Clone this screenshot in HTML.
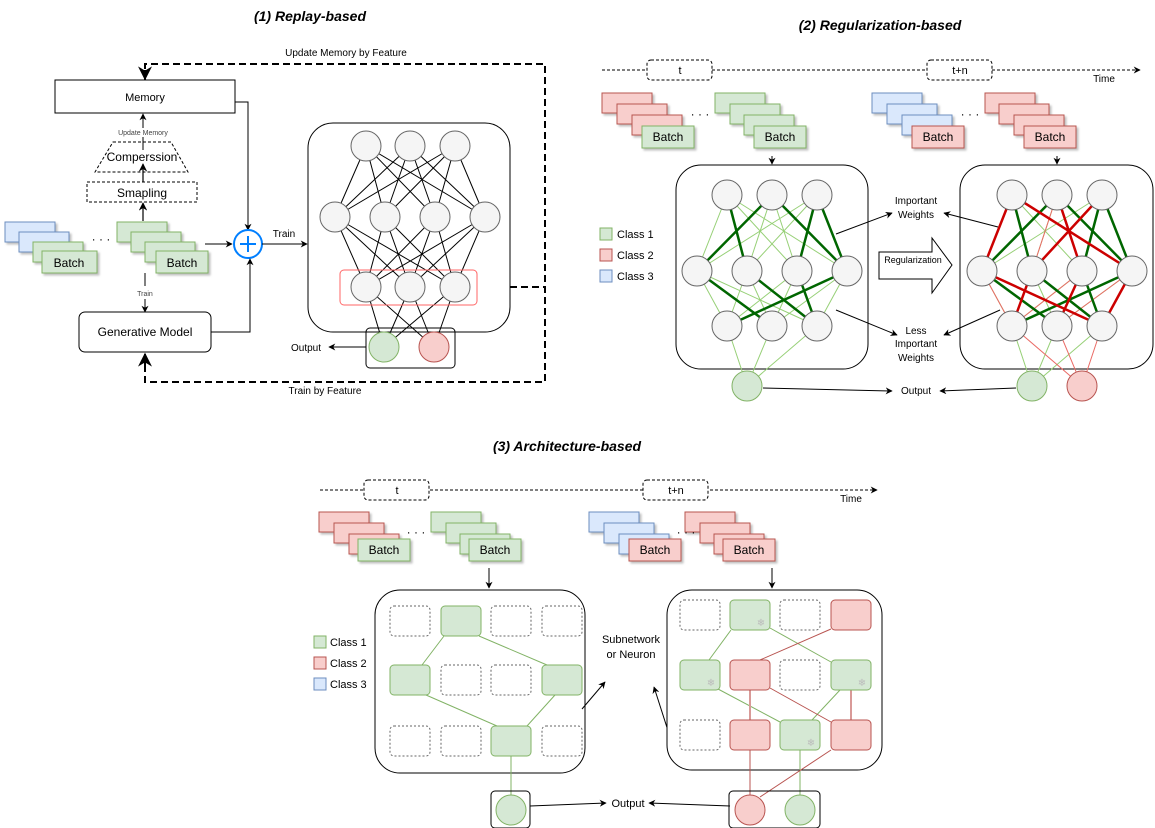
<!DOCTYPE html>
<html><head><meta charset="utf-8"><style>
body{margin:0;background:#fff;}
svg{display:block;font-family:"Liberation Sans",sans-serif;}
</style></head><body>
<svg width="1155" height="828" viewBox="0 0 1155 828" xmlns="http://www.w3.org/2000/svg">
<defs>
<marker id="ar" viewBox="0 0 10 10" refX="9" refY="5" markerWidth="7" markerHeight="7" orient="auto-start-reverse"><path d="M0,0 L10,5 L0,10 L3,5 z" fill="#000"/></marker>
<filter id="sh"><feDropShadow dx="2" dy="2" stdDeviation="1" flood-opacity="0.25"/></filter>
</defs>
<g font-style="italic" font-weight="bold" font-size="14" text-anchor="middle">
<text x="310" y="21">(1) Replay-based</text>
<text x="880" y="30">(2) Regularization-based</text>
<text x="567" y="451">(3) Architecture-based</text>
</g>

<!-- ===== Section 1 ===== -->
<g fill="none" stroke="#000" stroke-width="2" stroke-dasharray="7,4">
<path d="M145,80 V64 H545 V382 H145 V356"/>
<path d="M477,287 H545"/>
</g>
<path d="M145,70 V79" stroke="#000" stroke-width="2" marker-end="url(#ar)"/>
<path d="M145,366 V354" stroke="#000" stroke-width="2" marker-end="url(#ar)"/>
<text x="346" y="56" font-size="10" text-anchor="middle">Update Memory by Feature</text>
<text x="325" y="394" font-size="10" text-anchor="middle">Train by Feature</text>
<rect x="55" y="80" width="180" height="33" fill="#fff" stroke="#000"/>
<text x="145" y="101" font-size="11" text-anchor="middle">Memory</text>
<path d="M235,102 H248 V230" fill="none" stroke="#000" marker-end="url(#ar)"/>
<path d="M143,128 V114" stroke="#000" marker-end="url(#ar)"/>
<text x="143" y="135" font-size="7" fill="#444" text-anchor="middle">Update Memory</text>
<path d="M113,142 H171 L188,172 H95 Z" fill="#fff" stroke="#000" stroke-dasharray="3,2"/>
<path d="M143,137 V150" stroke="#000"/>
<text x="142" y="161" font-size="12" text-anchor="middle">Comperssion</text>
<path d="M143,182 V164" stroke="#000" stroke-width="1.2" marker-end="url(#ar)"/>
<rect x="87" y="182" width="110" height="20" fill="#fff" stroke="#000" stroke-dasharray="3,2"/>
<text x="142" y="197" font-size="12" text-anchor="middle">Smapling</text>
<path d="M143,221 V203" stroke="#000" stroke-width="1.2" marker-end="url(#ar)"/>
<g filter="url(#sh)">
<rect x="5" y="222" width="50" height="20" fill="#dae8fc" stroke="#6c8ebf"/>
<rect x="19" y="232" width="50" height="20" fill="#dae8fc" stroke="#6c8ebf"/>
<rect x="33" y="242" width="50" height="20" fill="#d5e8d4" stroke="#82b366"/>
<rect x="42" y="251" width="55" height="22" fill="#d5e8d4" stroke="#82b366"/>
<rect x="117" y="222" width="50" height="20" fill="#d5e8d4" stroke="#82b366"/>
<rect x="131" y="232" width="50" height="20" fill="#d5e8d4" stroke="#82b366"/>
<rect x="145" y="242" width="50" height="20" fill="#d5e8d4" stroke="#82b366"/>
<rect x="156" y="251" width="52" height="22" fill="#d5e8d4" stroke="#82b366"/>
</g>
<text x="69" y="267" font-size="12" text-anchor="middle">Batch</text>
<text x="182" y="267" font-size="12" text-anchor="middle">Batch</text>
<text x="101" y="243" font-size="12" text-anchor="middle">· · ·</text>
<path d="M205,244 H232" stroke="#000" marker-end="url(#ar)"/>
<circle cx="248" cy="244" r="14" fill="#fff" stroke="#007fff" stroke-width="2"/>
<path d="M240,244 H256 M248,236 V252" stroke="#007fff" stroke-width="2"/>
<path d="M262,244 H307" stroke="#000" marker-end="url(#ar)"/>
<text x="284" y="237" font-size="10" text-anchor="middle">Train</text>
<path d="M145,273 V286" stroke="#000"/>
<path d="M145,299 V312" stroke="#000" marker-end="url(#ar)"/>
<text x="145" y="296" font-size="7" fill="#444" text-anchor="middle">Train</text>
<rect x="79" y="312" width="132" height="40" rx="6" fill="#fff" stroke="#000"/>
<text x="145" y="336" font-size="12" text-anchor="middle">Generative Model</text>
<path d="M211,332 H250 V259" fill="none" stroke="#000" marker-end="url(#ar)"/>
<rect x="308" y="123" width="202" height="209" rx="25" fill="#fff" stroke="#000"/>
<g stroke="#000" stroke-width="1">
<path d="M366,146L335,217M366,146L385,217M366,146L435,217M366,146L485,217M410,146L335,217M410,146L385,217M410,146L435,217M410,146L485,217M455,146L335,217M455,146L385,217M455,146L435,217M455,146L485,217"/>
<path d="M335,217L366,287M335,217L410,287M335,217L455,287M385,217L366,287M385,217L410,287M385,217L455,287M435,217L366,287M435,217L410,287M435,217L455,287M485,217L366,287M485,217L410,287M485,217L455,287"/>
<path d="M366,287L384,347M366,287L434,347M410,287L384,347M410,287L434,347M455,287L384,347M455,287L434,347"/>
</g>
<rect x="340" y="270" width="137" height="35" rx="4" fill="none" stroke="#ff6666"/>
<g fill="#f5f5f5" stroke="#666">
<circle cx="366" cy="146" r="15"/><circle cx="410" cy="146" r="15"/><circle cx="455" cy="146" r="15"/>
<circle cx="335" cy="217" r="15"/><circle cx="385" cy="217" r="15"/><circle cx="435" cy="217" r="15"/><circle cx="485" cy="217" r="15"/>
<circle cx="366" cy="287" r="15"/><circle cx="410" cy="287" r="15"/><circle cx="455" cy="287" r="15"/>
</g>
<rect x="366" y="328" width="89" height="40" rx="4" fill="none" stroke="#000"/>
<circle cx="384" cy="347" r="15" fill="#d5e8d4" stroke="#82b366"/>
<circle cx="434" cy="347" r="15" fill="#f8cecc" stroke="#b85450"/>
<path d="M366,347 H329" stroke="#000" marker-end="url(#ar)"/>
<text x="306" y="351" font-size="10" text-anchor="middle">Output</text>

<!-- ===== Section 2 ===== -->
<path d="M602,70 H1140" stroke="#000" stroke-dasharray="3,2" marker-end="url(#ar)"/>
<rect x="647" y="60" width="65" height="20" rx="4" fill="#fff" stroke="#000" stroke-dasharray="3,2"/>
<text x="680" y="74" font-size="11" text-anchor="middle">t</text>
<rect x="927" y="60" width="65" height="20" rx="4" fill="#fff" stroke="#000" stroke-dasharray="3,2"/>
<text x="960" y="74" font-size="11" text-anchor="middle">t+n</text>
<text x="1104" y="82" font-size="10" text-anchor="middle">Time</text>
<g filter="url(#sh)">
<rect x="602" y="93" width="50" height="20" fill="#f8cecc" stroke="#b85450"/>
<rect x="617" y="104" width="50" height="20" fill="#f8cecc" stroke="#b85450"/>
<rect x="632" y="115" width="50" height="20" fill="#f8cecc" stroke="#b85450"/>
<rect x="642" y="126" width="52" height="22" fill="#d5e8d4" stroke="#82b366"/>
<rect x="715" y="93" width="50" height="20" fill="#d5e8d4" stroke="#82b366"/>
<rect x="730" y="104" width="50" height="20" fill="#d5e8d4" stroke="#82b366"/>
<rect x="744" y="115" width="50" height="20" fill="#d5e8d4" stroke="#82b366"/>
<rect x="754" y="126" width="52" height="22" fill="#d5e8d4" stroke="#82b366"/>
<rect x="872" y="93" width="50" height="20" fill="#dae8fc" stroke="#6c8ebf"/>
<rect x="887" y="104" width="50" height="20" fill="#dae8fc" stroke="#6c8ebf"/>
<rect x="902" y="115" width="50" height="20" fill="#dae8fc" stroke="#6c8ebf"/>
<rect x="912" y="126" width="52" height="22" fill="#f8cecc" stroke="#b85450"/>
<rect x="985" y="93" width="50" height="20" fill="#f8cecc" stroke="#b85450"/>
<rect x="999" y="104" width="50" height="20" fill="#f8cecc" stroke="#b85450"/>
<rect x="1014" y="115" width="50" height="20" fill="#f8cecc" stroke="#b85450"/>
<rect x="1024" y="126" width="52" height="22" fill="#f8cecc" stroke="#b85450"/>
</g>
<g font-size="12" text-anchor="middle">
<text x="668" y="141">Batch</text><text x="780" y="141">Batch</text>
<text x="938" y="141">Batch</text><text x="1050" y="141">Batch</text>
<text x="700" y="118">· · ·</text><text x="970" y="118">· · ·</text>
</g>
<path d="M772,156 V164" stroke="#000" marker-end="url(#ar)"/>
<path d="M1057,156 V164" stroke="#000" marker-end="url(#ar)"/>
<g font-size="11">
<rect x="600" y="228" width="12" height="12" fill="#d5e8d4" stroke="#82b366"/><text x="617" y="238">Class 1</text>
<rect x="600" y="249" width="12" height="12" fill="#f8cecc" stroke="#b85450"/><text x="617" y="259">Class 2</text>
<rect x="600" y="270" width="12" height="12" fill="#dae8fc" stroke="#6c8ebf"/><text x="617" y="280">Class 3</text>
</g>
<rect x="676" y="165" width="192" height="204" rx="25" fill="#fff" stroke="#000"/>
<rect x="960" y="165" width="193" height="204" rx="25" fill="#fff" stroke="#000"/>
<g stroke="#97d077" stroke-width="1">
<path d="M727,195L697,271M727,195L797,271M727,195L847,271M772,195L747,271M772,195L797,271M817,195L697,271M817,195L747,271"/>
<path d="M697,271L727,326M697,271L817,326M747,271L727,326M747,271L772,326M797,271L727,326M797,271L772,326M847,271L772,326M847,271L817,326"/>
<path d="M727,326L747,386M772,326L747,386M817,326L747,386"/>
</g>
<g stroke="#006600" stroke-width="2.5">
<path d="M727,195L747,271M772,195L697,271M772,195L847,271M817,195L797,271M817,195L847,271"/>
<path d="M697,271L772,326M747,271L817,326M847,271L727,326M797,271L817,326"/>
</g>
<g stroke-width="1">
<path stroke="#97d077" d="M1012,195L1082,271M1057,195L1032,271M1102,195L982,271M982,271L1012,326M1032,271L1057,326M1082,271L1012,326M1132,271L1057,326M1012,326L1032,386M1057,326L1032,386M1102,326L1032,386"/>
<path stroke="#ea6b66" d="M1057,195L1032,271M1012,195L1132,271M1102,195L1082,271M982,271L1012,326M1082,271L1012,326M1132,271L1057,326M1012,326L1082,386M1057,326L1082,386M1102,326L1082,386"/>
</g>
<g stroke-width="2.5">
<path stroke="#006600" d="M1012,195L1032,271M1057,195L982,271M1102,195L1082,271M1102,195L1132,271M1057,195L1132,271M982,271L1057,326M1032,271L1102,326M1132,271L1012,326M1082,271L1102,326"/>
<path stroke="#cc0000" d="M1012,195L982,271M1057,195L1082,271M1102,195L1032,271M1012,195L1132,271M982,271L1102,326M1032,271L1012,326M1082,271L1057,326M1132,271L1102,326"/>
</g>
<g fill="#f5f5f5" stroke="#666">
<circle cx="727" cy="195" r="15"/><circle cx="772" cy="195" r="15"/><circle cx="817" cy="195" r="15"/>
<circle cx="697" cy="271" r="15"/><circle cx="747" cy="271" r="15"/><circle cx="797" cy="271" r="15"/><circle cx="847" cy="271" r="15"/>
<circle cx="727" cy="326" r="15"/><circle cx="772" cy="326" r="15"/><circle cx="817" cy="326" r="15"/>
<circle cx="1012" cy="195" r="15"/><circle cx="1057" cy="195" r="15"/><circle cx="1102" cy="195" r="15"/>
<circle cx="982" cy="271" r="15"/><circle cx="1032" cy="271" r="15"/><circle cx="1082" cy="271" r="15"/><circle cx="1132" cy="271" r="15"/>
<circle cx="1012" cy="326" r="15"/><circle cx="1057" cy="326" r="15"/><circle cx="1102" cy="326" r="15"/>
</g>
<circle cx="747" cy="386" r="15" fill="#d5e8d4" stroke="#82b366"/>
<circle cx="1032" cy="386" r="15" fill="#d5e8d4" stroke="#82b366"/>
<circle cx="1082" cy="386" r="15" fill="#f8cecc" stroke="#b85450"/>
<g font-size="10" text-anchor="middle">
<text x="916" y="204">Important</text><text x="916" y="218">Weights</text>
<text x="916" y="334">Less</text><text x="916" y="347">Important</text><text x="916" y="361">Weights</text>
<text x="916" y="394">Output</text>
</g>
<g stroke="#000">
<path d="M836,234 L892,213" marker-end="url(#ar)"/>
<path d="M998,227 L944,213" marker-end="url(#ar)"/>
<path d="M836,310 L897,335" marker-end="url(#ar)"/>
<path d="M1000,310 L944,335" marker-end="url(#ar)"/>
<path d="M763,388 L892,391" marker-end="url(#ar)"/>
<path d="M1016,388 L940,391" marker-end="url(#ar)"/>
</g>
<path d="M879,252 H932 V238 L952,265 L932,293 V279 H879 Z" fill="#fff" stroke="#000"/>
<text x="913" y="263" font-size="9" text-anchor="middle">Regularization</text>

<!-- ===== Section 3 ===== -->
<path d="M320,490 H877" stroke="#000" stroke-dasharray="3,2" marker-end="url(#ar)"/>
<rect x="364" y="480" width="65" height="20" rx="4" fill="#fff" stroke="#000" stroke-dasharray="3,2"/>
<text x="397" y="494" font-size="11" text-anchor="middle">t</text>
<rect x="643" y="480" width="65" height="20" rx="4" fill="#fff" stroke="#000" stroke-dasharray="3,2"/>
<text x="676" y="494" font-size="11" text-anchor="middle">t+n</text>
<text x="851" y="502" font-size="10" text-anchor="middle">Time</text>
<g filter="url(#sh)">
<rect x="319" y="512" width="50" height="20" fill="#f8cecc" stroke="#b85450"/>
<rect x="334" y="523" width="50" height="20" fill="#f8cecc" stroke="#b85450"/>
<rect x="349" y="534" width="50" height="20" fill="#f8cecc" stroke="#b85450"/>
<rect x="358" y="539" width="52" height="22" fill="#d5e8d4" stroke="#82b366"/>
<rect x="431" y="512" width="50" height="20" fill="#d5e8d4" stroke="#82b366"/>
<rect x="446" y="523" width="50" height="20" fill="#d5e8d4" stroke="#82b366"/>
<rect x="460" y="534" width="50" height="20" fill="#d5e8d4" stroke="#82b366"/>
<rect x="469" y="539" width="52" height="22" fill="#d5e8d4" stroke="#82b366"/>
<rect x="589" y="512" width="50" height="20" fill="#dae8fc" stroke="#6c8ebf"/>
<rect x="604" y="523" width="50" height="20" fill="#dae8fc" stroke="#6c8ebf"/>
<rect x="619" y="534" width="50" height="20" fill="#dae8fc" stroke="#6c8ebf"/>
<rect x="629" y="539" width="52" height="22" fill="#f8cecc" stroke="#b85450"/>
<rect x="685" y="512" width="50" height="20" fill="#f8cecc" stroke="#b85450"/>
<rect x="700" y="523" width="50" height="20" fill="#f8cecc" stroke="#b85450"/>
<rect x="714" y="534" width="50" height="20" fill="#f8cecc" stroke="#b85450"/>
<rect x="723" y="539" width="52" height="22" fill="#f8cecc" stroke="#b85450"/>
</g>
<g font-size="12" text-anchor="middle">
<text x="384" y="554">Batch</text><text x="495" y="554">Batch</text>
<text x="655" y="554">Batch</text><text x="749" y="554">Batch</text>
<text x="416" y="536">· · ·</text><text x="686" y="536">· · ·</text>
</g>
<path d="M489,568 V588" stroke="#000" marker-end="url(#ar)"/>
<path d="M772,568 V588" stroke="#000" marker-end="url(#ar)"/>
<g font-size="11">
<rect x="314" y="636" width="12" height="12" fill="#d5e8d4" stroke="#82b366"/><text x="330" y="646">Class 1</text>
<rect x="314" y="657" width="12" height="12" fill="#f8cecc" stroke="#b85450"/><text x="330" y="667">Class 2</text>
<rect x="314" y="678" width="12" height="12" fill="#dae8fc" stroke="#6c8ebf"/><text x="330" y="688">Class 3</text>
</g>
<rect x="375" y="590" width="210" height="183" rx="25" fill="#fff" stroke="#000"/>
<g stroke="#82b366" stroke-width="1">
<path d="M444,636 L422,665 M479,636 L547,665 M426,695 L497,726 M555,695 L527,726 M511,756 V795"/>
</g>
<g fill="#fff" stroke="#666" stroke-dasharray="2,2">
<rect x="390" y="606" width="40" height="30" rx="4"/><rect x="491" y="606" width="40" height="30" rx="4"/><rect x="542" y="606" width="40" height="30" rx="4"/>
<rect x="441" y="665" width="40" height="30" rx="4"/><rect x="491" y="665" width="40" height="30" rx="4"/>
<rect x="390" y="726" width="40" height="30" rx="4"/><rect x="441" y="726" width="40" height="30" rx="4"/><rect x="542" y="726" width="40" height="30" rx="4"/>
</g>
<g fill="#d5e8d4" stroke="#82b366">
<rect x="441" y="606" width="40" height="30" rx="4"/><rect x="390" y="665" width="40" height="30" rx="4"/>
<rect x="542" y="665" width="40" height="30" rx="4"/><rect x="491" y="726" width="40" height="30" rx="4"/>
</g>
<rect x="491" y="791" width="39" height="37" rx="4" fill="none" stroke="#000"/>
<circle cx="511" cy="810" r="15" fill="#d5e8d4" stroke="#82b366"/>
<text x="631" y="643" font-size="11" text-anchor="middle">Subnetwork</text>
<text x="631" y="658" font-size="11" text-anchor="middle">or Neuron</text>
<g stroke="#000">
<path d="M582,709 L605,682" marker-end="url(#ar)"/>
<path d="M679,765 L654,687" marker-end="url(#ar)"/>
<path d="M530,806 L606,803" marker-end="url(#ar)"/>
<path d="M730,806 L649,803" marker-end="url(#ar)"/>
</g>
<text x="628" y="807" font-size="11" text-anchor="middle">Output</text>
<rect x="667" y="590" width="215" height="180" rx="25" fill="#fff" stroke="#000"/>
<g stroke-width="1" fill="none">
<path stroke="#82b366" d="M731,630 L709,660 M770,628 L831,662 M718,689 L780,722 M840,690 L812,720 M800,750 V795"/>
<path stroke="#b85450" d="M831,629 L760,660 M770,688 L831,722 M750,750 V795 M831,750 L760,797"/>
<path stroke="#d99a98" stroke-width="2" d="M750,690 V720 M851,690 V720"/>
</g>
<g fill="#fff" stroke="#666" stroke-dasharray="2,2">
<rect x="680" y="600" width="40" height="30" rx="4"/><rect x="780" y="600" width="40" height="30" rx="4"/>
<rect x="780" y="660" width="40" height="30" rx="4"/><rect x="680" y="720" width="40" height="30" rx="4"/>
</g>
<g fill="#d5e8d4" stroke="#82b366">
<rect x="730" y="600" width="40" height="30" rx="4"/><rect x="680" y="660" width="40" height="30" rx="4"/>
<rect x="831" y="660" width="40" height="30" rx="4"/><rect x="780" y="720" width="40" height="30" rx="4"/>
</g>
<g fill="#f8cecc" stroke="#b85450">
<rect x="831" y="600" width="40" height="30" rx="4"/><rect x="730" y="660" width="40" height="30" rx="4"/>
<rect x="730" y="720" width="40" height="30" rx="4"/><rect x="831" y="720" width="40" height="30" rx="4"/>
</g>
<g font-size="10" fill="#bbb" text-anchor="middle">
<text x="761" y="626">❄</text><text x="711" y="686">❄</text><text x="862" y="686">❄</text><text x="811" y="746">❄</text>
</g>
<rect x="729" y="791" width="91" height="37" rx="4" fill="none" stroke="#000"/>
<circle cx="750" cy="810" r="15" fill="#f8cecc" stroke="#b85450"/>
<circle cx="800" cy="810" r="15" fill="#d5e8d4" stroke="#82b366"/>
</svg>
</body></html>
